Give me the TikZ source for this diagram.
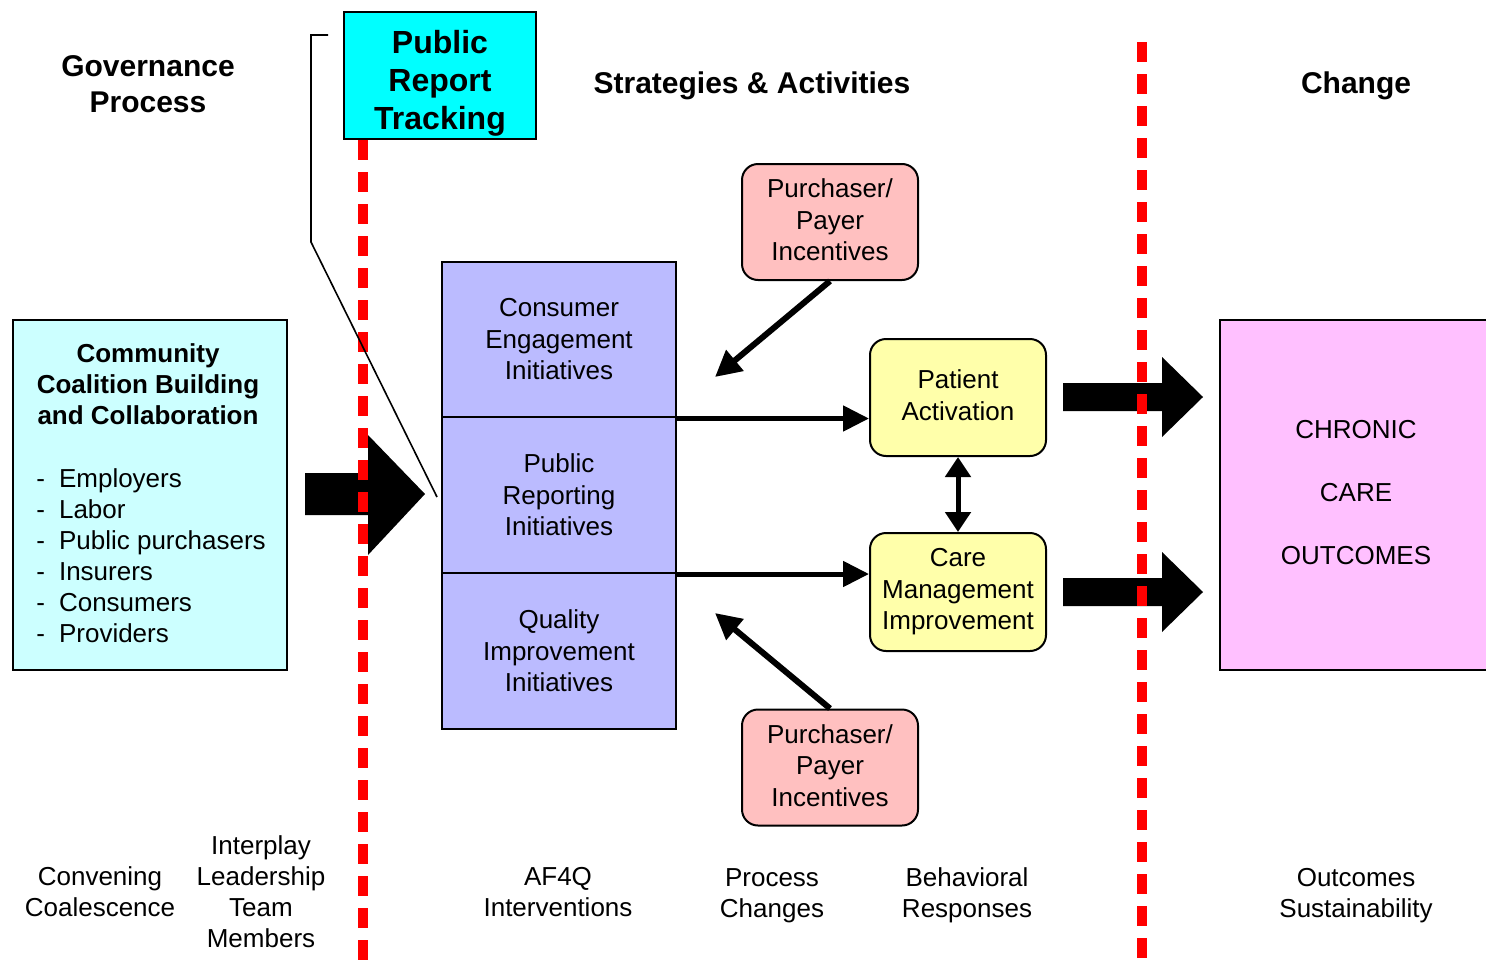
\documentclass[tikz,border=0pt]{standalone}
\usepackage{fontspec}
\setmainfont{Liberation Sans}
\usetikzlibrary{arrows.meta,calc}

\definecolor{coalfill}{HTML}{CCFFFF}
\definecolor{trackfill}{HTML}{00FFFF}
\definecolor{initfill}{HTML}{BBBBFF}
\definecolor{payfill}{HTML}{FFC0C0}
\definecolor{actfill}{HTML}{FFFFAA}
\definecolor{outfill}{HTML}{FFC0FF}
\definecolor{divred}{HTML}{FF0000}

\tikzset{
  plainbox/.style={draw=black, line width=1pt, inner sep=0pt, align=center,
    font=\fontsize{13}{15.75}\selectfont},
  roundbox/.style={plainbox, rounded corners=8pt},
  header/.style={inner sep=0pt, align=center, font=\bfseries\fontsize{15}{18}\selectfont},
  caption/.style={inner sep=0pt, align=center, font=\fontsize{13}{15.5}\selectfont},
  flow/.style={line width=2.5pt, -{Triangle[length=13pt,width=12.5pt]}},
  nudge/.style={line width=3pt, -{Triangle[length=13pt,width=13pt]}},
  mutual/.style={line width=2.5pt, {Triangle[length=10pt,width=12.5pt]}-{Triangle[length=10pt,width=12.5pt]}},
  blockarrow/.style={fill=black, draw=none},
  divider/.style={draw=divred, line width=5pt, dash pattern=on 10pt off 6pt},
  leader/.style={draw=black, line width=0.8pt}
}

\begin{document}
\begin{tikzpicture}[x=0.5pt, y=-0.5pt]
\useasboundingbox (0,0) rectangle (1486,969);

% column headings
\node[header] (gov) at (148,84) {Governance\\Process};
\node[header] (strat) at (752,86) {Strategies \& Activities};
\node[header] (chg) at (1356,86) {Change};

% coalition box
\node[plainbox, fill=coalfill, minimum width=137pt, minimum height=175pt] (coal) at (150,495) {};
\node[inner sep=0pt, align=center, font=\bfseries\fontsize{13}{15.6}\selectfont] (coaltitle) at (148,384)
  {Community\\Coalition Building\\and Collaboration};
\node[inner sep=0pt, anchor=west, align=left, font=\fontsize{13}{15.5}\selectfont] (members) at (36,556)
  {-\hspace{7pt}Employers\\-\hspace{7pt}Labor\\-\hspace{7pt}Public purchasers\\-\hspace{7pt}Insurers\\-\hspace{7pt}Consumers\\-\hspace{7pt}Providers};

% tracking box
\node[plainbox, fill=trackfill, minimum width=96pt, minimum height=63.5pt] (track) at (440,75.5) {};
\node[inner sep=0pt, align=center, font=\bfseries\fontsize{16}{19}\selectfont] (tracktxt) at (440,83.5)
  {Public\\Report\\Tracking};

% initiatives stack
\node[plainbox, fill=initfill, minimum width=117pt, minimum height=78pt] (cei) at (559,339.5)
  {Consumer\\Engagement\\Initiatives};
\node[plainbox, fill=initfill, minimum width=117pt, minimum height=78pt] (pri) at (559,495)
  {Public\\Reporting\\Initiatives};
\node[plainbox, fill=initfill, minimum width=117pt, minimum height=78pt] (qii) at (559,651)
  {Quality\\Improvement\\Initiatives};

% incentives
\node[roundbox, fill=payfill, minimum width=88pt, minimum height=58pt] (pay1) at (830,222) {};
\node[inner sep=0pt, align=center, font=\fontsize{13}{15.75}\selectfont] (pay1txt) at (830,220)
  {Purchaser/\\Payer\\Incentives};
\node[roundbox, fill=payfill, minimum width=88pt, minimum height=58pt] (pay2) at (830,767.5) {};
\node[inner sep=0pt, align=center, font=\fontsize{13}{15.75}\selectfont] (pay2txt) at (830,765.5)
  {Purchaser/\\Payer\\Incentives};

% activation and care management
\node[roundbox, fill=actfill, minimum width=88pt, minimum height=58.5pt] (pa) at (958,397.5) {};
\node[inner sep=0pt, align=center, font=\fontsize{13}{15.75}\selectfont] (patxt) at (958,395)
  {Patient\\Activation};
\node[roundbox, fill=actfill, minimum width=88pt, minimum height=59pt] (cm) at (958,592)
  {Care\\Management\\Improvement};

% outcomes box
\node[plainbox, fill=outfill, minimum width=136pt, minimum height=175pt] (out) at (1356,495) {};
\node[inner sep=0pt, align=center, font=\fontsize{13}{31.5}\selectfont] (outtxt) at (1356,493)
  {CHRONIC\\CARE\\OUTCOMES};

% connectors
\coordinate (in1) at (715,377);
\coordinate (in2) at (715,613);
\draw[nudge] (pay1.south) -- (in1);
\draw[nudge] (pay2.north) -- (in2);
\draw[flow] (cei.south east) -- (cei.south east -| pa.west);
\draw[flow] (pri.south east) -- (pri.south east -| cm.west);
\draw[mutual] (pa.south) -- (cm.north);

% block arrows
\fill[blockarrow] (305,473) -- (368,473) -- (368,435) -- (425,494) -- (368,555) -- (368,515) -- (305,515) -- cycle;
\fill[blockarrow] (1063,383) -- (1162,383) -- (1162,357) -- (1203,397) -- (1162,437) -- (1162,411) -- (1063,411) -- cycle;
\fill[blockarrow] (1063,578) -- (1162,578) -- (1162,552) -- (1203,592) -- (1162,632) -- (1162,606) -- (1063,606) -- cycle;

% dividers
\coordinate (d1top) at (363,140);
\coordinate (d1bot) at (363,969);
\coordinate (d2top) at (1142,42);
\coordinate (d2bot) at (1142,969);
\draw[divider] (d1top) -- (d1bot);
\draw[divider] (d2top) -- (d2bot);

% leader from the tracking box to public reporting
\coordinate (ld0) at (328,35);
\coordinate (ld1) at (311,35);
\coordinate (ld2) at (311,242);
\coordinate (ld3) at (437,497);
\draw[leader] (ld0) -- (ld1) -- (ld2) -- (ld3);

% bottom captions
\node[caption] (c1) at (100,892) {Convening\\Coalescence};
\node[caption] (c2) at (261,892) {Interplay\\Leadership\\Team\\Members};
\node[caption] (c3) at (558,892) {AF4Q\\Interventions};
\node[caption] (c4) at (772,896) {Process\\Changes};
\node[caption] (c5) at (967,895) {Behavioral\\Responses};
\node[caption] (c6) at (1356,896) {Outcomes\\Sustainability};
\end{tikzpicture}
\end{document}
